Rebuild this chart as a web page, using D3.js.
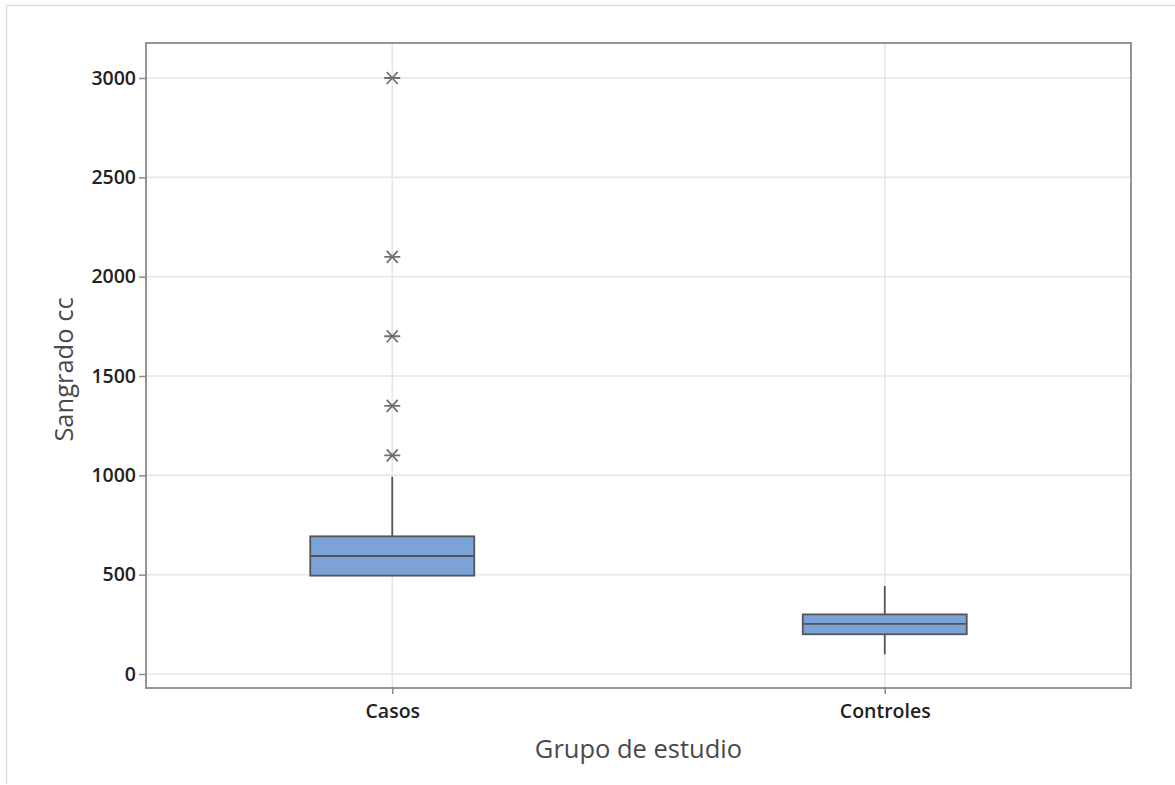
<!DOCTYPE html>
<html>
<head>
<meta charset="utf-8">
<script src="https://cdn.jsdelivr.net/npm/d3@7"></script>
<style>
  html, body { margin: 0; padding: 0; background: #fff; }
  svg { display: block; }
  text { font-family: "Open Sans", "Noto Sans", sans-serif; }
</style>
</head>
<body>
<svg id="chart" width="1175" height="785"></svg>
<script>
// Study groups and their box-plot summaries (Sangrado cc)
const groups = ["Casos", "Controles"];
const q1 = [495, 200];
const median = [594, 252];
const q3 = [693, 300];
const whiskerLow = [495, 99];
const whiskerHigh = [993, 443];
const outliers = [[1100, 1350, 1700, 2100, 3000], []];
const yTicks = [0, 500, 1000, 1500, 2000, 2500, 3000];

const svg = d3.select("#chart");
const W = 1175, H = 785;
const m = { left: 146, top: 43, right: 1131, bottom: 688 };

// Outer frame lines (top and left)
svg.append("line").attr("x1", 6.5).attr("x2", W).attr("y1", 5.5).attr("y2", 5.5)
  .attr("stroke", "#dedede").attr("stroke-width", 1.5);
svg.append("line").attr("x1", 6.5).attr("x2", 6.5).attr("y1", 5.5).attr("y2", 784)
  .attr("stroke", "#dedede").attr("stroke-width", 1.5);

const x = d3.scalePoint().domain(groups).range([m.left, m.right]).padding(0.5);
const y = d3.scaleLinear().domain([0, 3000]).range([674, 78]);

// Gridlines
const grid = svg.append("g");
grid.selectAll("line.h").data(yTicks).join("line")
  .attr("x1", m.left).attr("x2", m.right)
  .attr("y1", d => y(d)).attr("y2", d => y(d))
  .attr("stroke", "#e6e6e6").attr("stroke-width", 1.5);
grid.selectAll("line.v").data(groups).join("line")
  .attr("x1", d => x(d)).attr("x2", d => x(d))
  .attr("y1", m.top).attr("y2", m.bottom)
  .attr("stroke", "#e6e6e6").attr("stroke-width", 1.5);

// Axes
const yAxis = svg.append("g").attr("transform", `translate(${m.left},0)`)
  .call(d3.axisLeft(y).tickValues(yTicks).tickSize(7).tickPadding(3).tickFormat(d3.format("d")));
const xAxis = svg.append("g").attr("transform", `translate(0,${m.bottom})`)
  .call(d3.axisBottom(x).tickSize(6).tickPadding(10));
[yAxis, xAxis].forEach(a => {
  a.select(".domain").remove();
  a.attr("font-size", null);
  a.selectAll(".tick line").attr("stroke", "#8c8c8c").attr("stroke-width", 1.5);
  a.selectAll(".tick text").attr("fill", "#222").attr("font-size", 19.5).attr("font-weight", 600)
    .style("font-family", '"Open Sans", "Noto Sans", sans-serif');
});

// Plot frame
svg.append("rect").attr("x", m.left).attr("y", m.top)
  .attr("width", m.right - m.left).attr("height", m.bottom - m.top)
  .attr("fill", "none").attr("stroke", "#8a8a8a").attr("stroke-width", 1.8);

// Boxes
const boxW = 164;
const data = groups.map((g, i) => ({ g, q1: q1[i], med: median[i], q3: q3[i],
  lo: whiskerLow[i], hi: whiskerHigh[i], out: outliers[i] }));
const bx = svg.append("g");
bx.selectAll("line.wh").data(data).join("line")
  .attr("x1", d => x(d.g)).attr("x2", d => x(d.g))
  .attr("y1", d => y(d.q3)).attr("y2", d => y(d.hi))
  .attr("stroke", "#555").attr("stroke-width", 1.8);
bx.selectAll("line.wl").data(data).join("line")
  .attr("x1", d => x(d.g)).attr("x2", d => x(d.g))
  .attr("y1", d => y(d.q1)).attr("y2", d => y(d.lo))
  .attr("stroke", "#555").attr("stroke-width", 1.8);
bx.selectAll("rect").data(data).join("rect")
  .attr("x", d => x(d.g) - boxW / 2).attr("width", boxW)
  .attr("y", d => y(d.q3)).attr("height", d => y(d.q1) - y(d.q3))
  .attr("fill", "#7ba3d8").attr("stroke", "#555").attr("stroke-width", 1.8);
bx.selectAll("line.med").data(data).join("line")
  .attr("x1", d => x(d.g) - boxW / 2).attr("x2", d => x(d.g) + boxW / 2)
  .attr("y1", d => y(d.med)).attr("y2", d => y(d.med))
  .attr("stroke", "#555").attr("stroke-width", 1.8);

// Outlier asterisks
const pts = data.flatMap(d => d.out.map(v => ({ g: d.g, v })));
svg.append("g").selectAll("path").data(pts).join("path")
  .attr("transform", d => `translate(${x(d.g)},${y(d.v)})`)
  .attr("d", "M-8,0L8,0M-5.5,-6L5.5,6M-5.5,6L5.5,-6")
  .attr("stroke", "#707070").attr("stroke-width", 1.8).attr("fill", "none");

// Axis titles
svg.append("text").attr("x", (m.left + m.right) / 2).attr("y", 758)
  .attr("text-anchor", "middle").attr("font-size", 25.5).attr("fill", "#4a4a4a")
  .text("Grupo de estudio");
svg.append("text").attr("transform", `translate(73,${(m.top + m.bottom) / 2 + 4}) rotate(-90)`)
  .attr("text-anchor", "middle").attr("font-size", 25.5).attr("fill", "#4a4a4a")
  .text("Sangrado cc");
</script>
</body>
</html>
